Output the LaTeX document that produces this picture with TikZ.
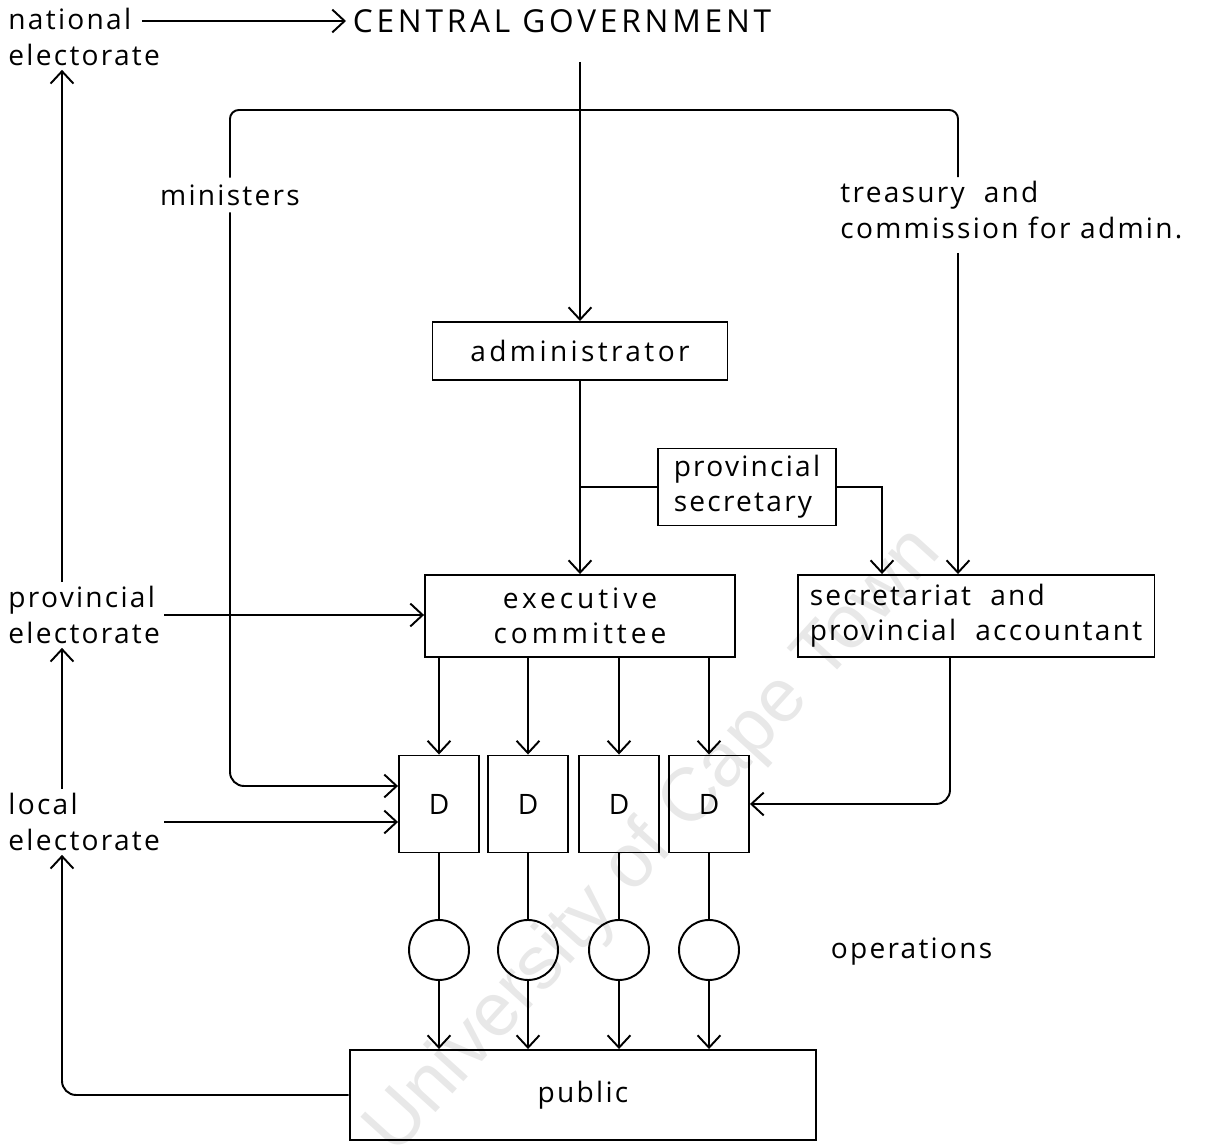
\documentclass[tikz,border=0pt]{standalone}
\usepackage{fontspec}
\setmainfont{Open Sans}[LetterSpace=8]
\newfontfamily\wmfont{Liberation Sans}
\usetikzlibrary{arrows.meta}
\newcommand\labfont{\fontsize{16}{20}\selectfont}
\newcommand\widefont{\labfont\addfontfeature{LetterSpace=14}}
\tikzstyle{box} = [rectangle, draw, inner sep=2pt]
\tikzstyle{dept} = [rectangle, draw, minimum width=1.6cm, minimum height=1.94cm]
\tikzstyle{op} = [circle, draw, minimum size=1.2cm, inner sep=0pt]
\tikzstyle{lbl} = [align=left, inner sep=2pt]

\begin{document}
\begin{tikzpicture}[x=0.02cm,y=-0.02cm,>={Straight Barb[length=7pt,width=13pt]},line width=1.1pt,font=\labfont]
  \useasboundingbox (0,0) rectangle (1205,1148);
  \node[rotate=47.8, text=black!9, font=\wmfont\fontsize{43}{43}\selectfont] (wm) at (655,842) {University of Cape Town};

  % electorates and loose labels
  \node[lbl, anchor=west] (natl) at (4,37) {national\\electorate};
  \node[anchor=west, font=\fontsize{18}{22}\selectfont\addfontfeature{LetterSpace=12}] (cg) at (346,21) {CENTRAL GOVERNMENT};
  \node[lbl, anchor=west] (prov) at (4,615) {provincial\\electorate};
  \node[lbl, anchor=west] (loc) at (4,822) {local\\electorate};
  \node (min) at (230,195) {ministers};
  \node[lbl, anchor=west] (trs) at (836,210) {treasury\ \ and\\commission for admin.};
  \node[anchor=west] (ops) at (824,952) {operations};

  % boxes
  \node[box, font=\labfont\addfontfeature{LetterSpace=12}, minimum width=5.9cm, minimum height=1.16cm] (adm) at (580,351) {administrator};
  \node[box, align=left, minimum width=3.56cm, minimum height=1.54cm] (psec) at (747,487) {provincial\\secretary};
  \node[box, font=\widefont, align=center, minimum width=6.2cm, minimum height=1.64cm] (exec) at (580,616) {executive\\committee};
  \node[box, align=left, minimum width=7.14cm, minimum height=1.64cm] (sect) at (976,616) {secretariat\ \ and\\provincial\ \ accountant};
  \node[dept] (d1) at (439,804) {D};
  \node[dept] (d2) at (528,804) {D};
  \node[dept] (d3) at (619,804) {D};
  \node[dept] (d4) at (709,804) {D};
  \node[op] (o1) at (439,950) {};
  \node[op] (o2) at (528,950) {};
  \node[op] (o3) at (619,950) {};
  \node[op] (o4) at (709,950) {};
  \node[box, minimum width=9.34cm, minimum height=1.8cm] (pub) at (583,1095) {public};

  \coordinate (br) at (958,110);
  \coordinate (lx) at (62,0);
  \coordinate (psx) at (882,487);
  \coordinate (sdx) at (950,0);

  % top of the chart
  \draw[->] ([xshift=-0.45cm]natl.east |- cg.west) -- (cg.west);
  \draw[->, shorten <=0.45cm] (cg.south -| adm.north) -- (adm.north);
  \draw[rounded corners=5] (min.north) |- (br) -- (br |- trs.north);
  \draw[->, rounded corners=8] (min.south) |- ([yshift=0.36cm]d1.west);
  \draw[->, shorten <=0.2cm] (trs.south -| br) -- (br |- sect.north);

  % administrator, secretary, committee
  \draw[->] (adm.south) -- (exec.north);
  \draw (adm.south |- psec.west) -- (psec.west);
  \draw[->] (psec.east) -- (psx) -- (psx |- sect.north);
  \draw[->] (prov.east) -- (prov.east -| exec.west);
  \draw[->] (loc.east) -- (loc.east -| d1.west);
  \draw[->, rounded corners=8] (sect.south -| sdx) |- (d4.east);

  % departments
  \draw[->] (exec.south -| d1.north) -- (d1.north);
  \draw[->] (exec.south -| d2.north) -- (d2.north);
  \draw[->] (exec.south -| d3.north) -- (d3.north);
  \draw[->] (exec.south -| d4.north) -- (d4.north);
  \draw (d1.south) -- (o1.north);
  \draw (d2.south) -- (o2.north);
  \draw (d3.south) -- (o3.north);
  \draw (d4.south) -- (o4.north);
  \draw[->] (o1.south) -- (o1.south |- pub.north);
  \draw[->] (o2.south) -- (o2.south |- pub.north);
  \draw[->] (o3.south) -- (o3.south |- pub.north);
  \draw[->] (o4.south) -- (o4.south |- pub.north);

  % electorates
  \draw[->] (loc.north -| lx) -- (prov.south -| lx);
  \draw[->] (prov.north -| lx) -- (natl.south -| lx);
  \draw[->, rounded corners=8] (pub.west) -| (loc.south -| lx);
\end{tikzpicture}
\end{document}
